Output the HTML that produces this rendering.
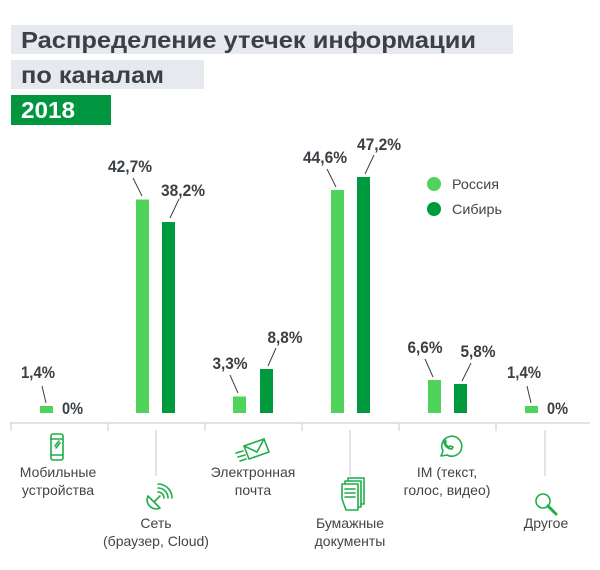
<!DOCTYPE html>
<html><head><meta charset="utf-8"><style>
html,body{margin:0;padding:0;background:#fff;}
svg{display:block;}
text{font-family:"Liberation Sans",sans-serif;}
.t{font-size:23px;font-weight:bold;fill:#3b4045;}
.v{font-size:17px;font-weight:bold;fill:#3b4045;}
.c{font-size:14px;fill:#444;}
.ic{fill:none;stroke:#1fae4b;stroke-width:1.6;stroke-linecap:round;stroke-linejoin:round;}
</style></head><body>
<svg width="600" height="570" viewBox="0 0 600 570" xmlns="http://www.w3.org/2000/svg">
<rect x="11" y="25" width="502" height="29" fill="#e6eaee"/>
<text class="t" x="21" y="48" textLength="455" lengthAdjust="spacingAndGlyphs">Распределение утечек информации</text>
<rect x="11" y="60" width="193" height="29" fill="#e6eaee"/>
<text class="t" x="21" y="83" textLength="143" lengthAdjust="spacingAndGlyphs">по каналам</text>
<rect x="11" y="95" width="100" height="30" fill="#00963f"/>
<text x="21" y="118" font-size="23" font-weight="bold" fill="#fff" textLength="54" lengthAdjust="spacingAndGlyphs">2018</text>

<!-- bars -->
<g fill="#4fd35a">
<rect x="40" y="406" width="13" height="7"/>
<rect x="136" y="199.5" width="13" height="213.5"/>
<rect x="233" y="396.5" width="13" height="16.5"/>
<rect x="331" y="190" width="13" height="223"/>
<rect x="428" y="380" width="13" height="33"/>
<rect x="525" y="406" width="13" height="7"/>
</g>
<g fill="#009a3e">
<rect x="162" y="222" width="13" height="191"/>
<rect x="260" y="369" width="13" height="44"/>
<rect x="357" y="177" width="13" height="236"/>
<rect x="454" y="384" width="13" height="29"/>
</g>

<!-- value labels -->
<g stroke="#3b4045" stroke-width="1">
<line x1="42" y1="386" x2="46" y2="403"/>
<line x1="133" y1="178" x2="142" y2="196"/>
<line x1="179" y1="199" x2="170" y2="218"/>
<line x1="230" y1="375" x2="238" y2="393"/>
<line x1="276" y1="348" x2="268" y2="366"/>
<line x1="327" y1="169" x2="336" y2="187"/>
<line x1="374" y1="155" x2="365" y2="174"/>
<line x1="425" y1="359" x2="433" y2="377"/>
<line x1="471" y1="363" x2="462" y2="381"/>
<line x1="527" y1="386" x2="531" y2="403"/>
</g>
<text class="v" x="38" y="378" text-anchor="middle" textLength="34" lengthAdjust="spacingAndGlyphs">1,4%</text>
<text class="v" x="62" y="414" textLength="21" lengthAdjust="spacingAndGlyphs">0%</text>
<text class="v" x="130" y="172" text-anchor="middle" textLength="44" lengthAdjust="spacingAndGlyphs">42,7%</text>
<text class="v" x="183" y="196" text-anchor="middle" textLength="44" lengthAdjust="spacingAndGlyphs">38,2%</text>
<text class="v" x="230" y="369" text-anchor="middle" textLength="35" lengthAdjust="spacingAndGlyphs">3,3%</text>
<text class="v" x="285" y="343" text-anchor="middle" textLength="35" lengthAdjust="spacingAndGlyphs">8,8%</text>
<text class="v" x="325" y="163" text-anchor="middle" textLength="44" lengthAdjust="spacingAndGlyphs">44,6%</text>
<text class="v" x="379" y="150" text-anchor="middle" textLength="44" lengthAdjust="spacingAndGlyphs">47,2%</text>
<text class="v" x="425" y="353" text-anchor="middle" textLength="35" lengthAdjust="spacingAndGlyphs">6,6%</text>
<text class="v" x="478" y="357" text-anchor="middle" textLength="35" lengthAdjust="spacingAndGlyphs">5,8%</text>
<text class="v" x="524" y="378" text-anchor="middle" textLength="34" lengthAdjust="spacingAndGlyphs">1,4%</text>
<text class="v" x="547" y="414" textLength="21" lengthAdjust="spacingAndGlyphs">0%</text>

<!-- legend -->
<circle cx="434" cy="184" r="7" fill="#4fd35a"/>
<circle cx="434" cy="209" r="7" fill="#009a3e"/>
<text class="c" x="452" y="189" textLength="47" lengthAdjust="spacingAndGlyphs">Россия</text>
<text class="c" x="452" y="214" textLength="50" lengthAdjust="spacingAndGlyphs">Сибирь</text>

<!-- axis -->
<g stroke="#cfd3d6" stroke-width="1.2">
<line x1="10" y1="423" x2="590" y2="423"/>
<line x1="11" y1="423" x2="11" y2="431"/>
<line x1="108" y1="423" x2="108" y2="431"/>
<line x1="205" y1="423" x2="205" y2="431"/>
<line x1="302" y1="423" x2="302" y2="431"/>
<line x1="399" y1="423" x2="399" y2="431"/>
<line x1="496" y1="423" x2="496" y2="431"/>
<line x1="156" y1="430" x2="156" y2="476"/>
<line x1="350" y1="430" x2="350" y2="476"/>
<line x1="545" y1="430" x2="545" y2="476"/>
</g>

<!-- icons -->
<g class="ic">
<rect x="51" y="434" width="12" height="26" rx="2"/>
<line x1="51" y1="439" x2="63" y2="439"/><line x1="51" y1="455" x2="63" y2="455"/>
<line x1="55" y1="446" x2="59" y2="441"/><line x1="56" y1="448" x2="60" y2="443"/>
<!-- satellite -->
<path d="M148 496 a9 9 0 0 0 12 12 z"/>
<line x1="154" y1="502" x2="160" y2="496"/>
<path d="M158 492 a6 6 0 0 1 6 6"/><path d="M158 488 a10 10 0 0 1 10 10"/><path d="M158 484 a14 14 0 0 1 14 14"/>
<!-- envelope -->
<path d="M244 446 l20 -7 l5 13 l-20 7 z"/><path d="M244 446 l13 6 l7 -13"/>
<line x1="236" y1="453" x2="243" y2="451"/><line x1="238" y1="457" x2="245" y2="455"/><line x1="240" y1="461" x2="246" y2="459"/>
<!-- documents -->
<path d="M342 499 v-15 h16 v26 h-12 z"/><path d="M345 484 v-3 h16 v26 h-3"/><path d="M348 481 v-3 h16 v26 h-3"/>
<line x1="345" y1="489" x2="355" y2="489"/><line x1="345" y1="493" x2="355" y2="493"/><line x1="345" y1="497" x2="355" y2="497"/>
<!-- whatsapp -->
<path d="M441 456 l2 -5 a10 10 0 1 1 4 4 z"/>
<path d="M444 441 c0 5 4 8 8 8 l1 -2 l-3 -1 l-1 1 c-2 -1 -3 -2 -4 -4 l1 -1 l-1 -3 z"/>
<!-- magnifier -->
<circle cx="543" cy="501" r="7"/><line x1="548" y1="506" x2="556" y2="514" stroke-width="3"/>
</g>

<!-- category labels -->
<g class="c" text-anchor="middle">
<text x="58" y="477">Мобильные</text>
<text x="58" y="495">устройства</text>
<text x="156" y="528">Сеть</text>
<text x="156" y="546">(браузер, Cloud)</text>
<text x="253" y="477">Электронная</text>
<text x="253" y="495">почта</text>
<text x="350" y="528">Бумажные</text>
<text x="350" y="546">документы</text>
<text x="447" y="477">IM (текст,</text>
<text x="447" y="495">голос, видео)</text>
<text x="546" y="528">Другое</text>
</g>
</svg>
</body></html>
